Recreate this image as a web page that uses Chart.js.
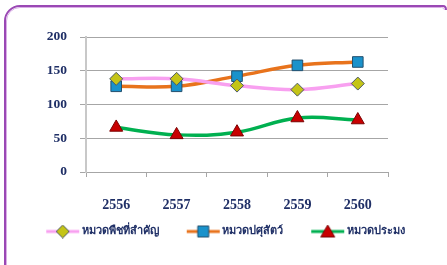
<!DOCTYPE html>
<html>
<head>
<meta charset="utf-8">
<script src="https://cdn.jsdelivr.net/npm/chart.js@4.4.1/dist/chart.umd.min.js"></script>
<style>
    body { margin: 0; background: #ffffff; overflow: hidden; }
</style>
</head>
<body>
<canvas id="trendChart" width="447" height="265"></canvas>
<script>
/* Data */
const years = ['2556', '2557', '2558', '2559', '2560'];
const cropValues = [138, 138, 128, 122, 131];
const livestockValues = [127, 127, 142, 158, 163];
const fisheryValues = [66, 55, 59, 80, 77];
const seriesNames = ['หมวดพืชที่สำคัญ', 'หมวดปศุสัตว์', 'หมวดประมง'];
const yTicks = [0, 50, 100, 150, 200];

const navy = '#1f2f66';
const serifBold = { family: '"Liberation Serif", "Times New Roman", serif', weight: 'bold' };

// Marker shapes for the small legend icons (line with marker in the middle)
const drawMarker = function(c, shape, x, y, fill, stroke) {
    c.fillStyle = fill;
    c.strokeStyle = stroke;
    c.lineWidth = 1;
    c.beginPath();
    if (shape == 'diamond') {
        c.moveTo(x, y - 6.5); c.lineTo(x + 6.5, y); c.lineTo(x, y + 6.5); c.lineTo(x - 6.5, y);
    } else if (shape == 'square') {
        c.rect(x - 5.5, y - 5.5, 11, 11);
    } else {
        c.moveTo(x, y - 6.5); c.lineTo(x + 7, y + 5.5); c.lineTo(x - 7, y + 5.5);
    }
    c.closePath();
    c.fill();
    c.stroke();
}

// icon is 56 wide: blank lead-in, then a 34px line with the marker
const makeIcon = function(lineColor, shape, fill, stroke) {
    const cv = document.createElement('canvas');
    cv.width = 56;
    cv.height = 14;
    const c = cv.getContext('2d');
    c.strokeStyle = lineColor;
    c.lineWidth = 3;
    c.beginPath();
    c.moveTo(22, 7);
    c.lineTo(55, 7);
    c.stroke();
    drawMarker(c, shape, 38.5, 7, fill, stroke);
    return cv;
}

// purple rounded frame, cut off at the right and bottom like the original
const framePlugin = {
    id: 'frame',
    beforeDraw: function(chart) {
        const c = chart.ctx;
        const path = function(off) {
            c.beginPath();
            c.moveTo(5 + off, 270);
            c.lineTo(5 + off, 21);
            c.arcTo(5 + off, 6 + off, 20, 6 + off, 15 - off);
            c.lineTo(443 - off, 6 + off);
            c.quadraticCurveTo(446 - off, 6 + off, 446 - off, 10);
        }
        c.save();
        c.lineWidth = 2;
        c.strokeStyle = '#9a48b4';
        path(0);
        c.stroke();
        c.lineWidth = 1;
        c.strokeStyle = '#d9aee6';
        path(1.5);
        c.stroke();
        c.restore();
    }
}

const styles = [
    { line: '#f8a0f0', shape: 'diamond', point: 'rectRot', radius: 6.5, fill: '#c4c417', stroke: '#4d5a66' },
    { line: '#e8731c', shape: 'square', point: 'rect', radius: 7.5, fill: '#1a92cb', stroke: '#24506e' },
    { line: '#00b050', shape: 'triangle', point: 'triangle', radius: 7.5, fill: '#c80000', stroke: '#7a0000' }
];
const values = [cropValues, livestockValues, fisheryValues];

const datasets = values.map((v, i) => {
    const s = styles[i];
    return {
        label: seriesNames[i],
        data: v,
        borderColor: s.line,
        borderWidth: 3.5,
        tension: 0.4,
        pointStyle: s.point,
        pointRadius: s.radius,
        pointBackgroundColor: s.fill,
        pointBorderColor: s.stroke,
        pointBorderWidth: 1,
        legendIcon: makeIcon(s.line, s.shape, s.fill, s.stroke)
    }
});

const ctx = document.getElementById('trendChart');
new Chart(ctx, {
    type: 'line',
    data: { labels: years, datasets: datasets },
    plugins: [framePlugin],
    options: {
        responsive: false,
        animation: false,
        layout: { padding: { top: 37, bottom: 18, left: 0, right: 14 } },
        scales: {
            x: {
                offset: true,
                grid: { drawOnChartArea: false, color: '#a6a6a6', tickLength: 5, offset: true },
                border: { color: '#a6a6a6' },
                ticks: { color: navy, font: { ...serifBold, size: 14 }, padding: 20 },
                afterFit: function(scale) { scale.height = 44; }
            },
            y: {
                min: 0,
                max: 200,
                afterBuildTicks: function(scale) { scale.ticks = yTicks.map((v) => ({ value: v })); },
                grid: { color: '#a6a6a6', tickLength: 6 },
                border: { color: '#c8c8c8', width: 2 },
                ticks: { color: navy, font: { ...serifBold, size: 13.5 }, padding: 13 },
                afterFit: function(scale) { scale.width = 86; }
            },
            spacer: {
                position: 'right',
                grid: { display: false },
                border: { display: false },
                ticks: { display: false },
                afterFit: function(scale) { scale.width = 45; }
            }
        },
        plugins: {
            tooltip: { enabled: false },
            legend: {
                position: 'bottom',
                labels: {
                    usePointStyle: true,
                    pointStyleWidth: 48,
                    padding: 10,
                    color: navy,
                    font: { ...serifBold, size: 11 },
                    generateLabels: function(chart) {
                        return chart.data.datasets.map((ds, i) => ({
                            text: ds.label,
                            pointStyle: ds.legendIcon,
                            fillStyle: ds.borderColor,
                            strokeStyle: ds.borderColor,
                            lineWidth: 0,
                            fontColor: navy,
                            hidden: false,
                            datasetIndex: i
                        }));
                    }
                }
            }
        }
    }
});
</script>
</body>
</html>
